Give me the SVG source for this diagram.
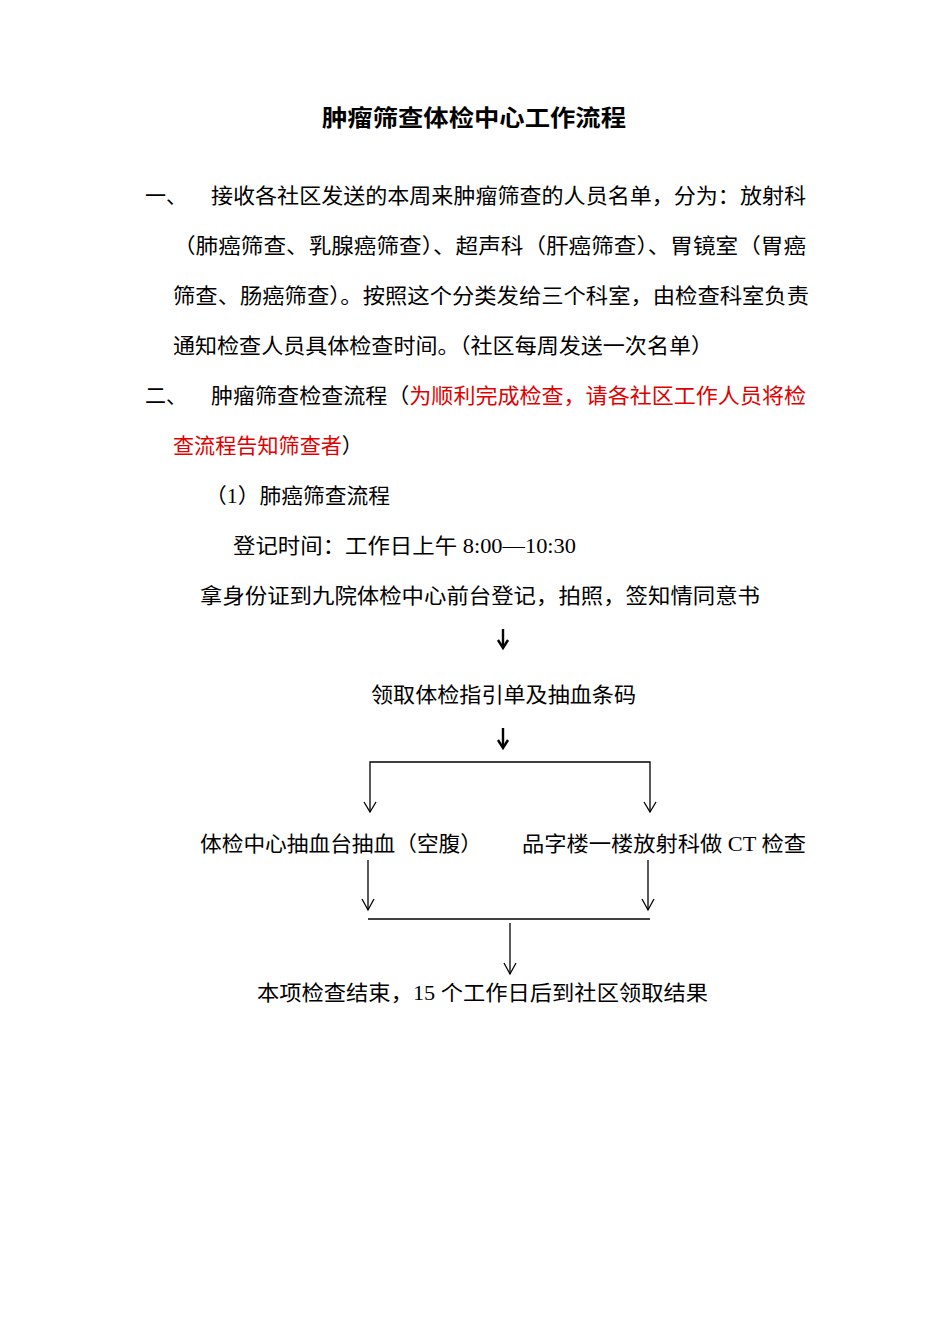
<svg xmlns="http://www.w3.org/2000/svg" width="950" height="1344" viewBox="0 0 950 1344">
<style>
text{font-family:"Liberation Serif","Noto Sans CJK SC",serif;font-size:21px;fill:#000}
.t{font-size:23px;font-weight:bold}
.r{fill:#e00000}
.c line,.c path{stroke:#000;stroke-width:1.3;fill:none}
.c .b{stroke-width:2.4}
</style>
<rect width="950" height="1344" fill="#fff"/>
<g id="title"><text class="t" x="322" y="126" textLength="304" lengthAdjust="spacingAndGlyphs">肿瘤筛查体检中心工作流程</text></g>
<g id="body">
<text x="145" y="203">一、</text>
<text x="211" y="203" textLength="595" lengthAdjust="spacingAndGlyphs">接收各社区发送的本周来肿瘤筛查的人员名单，分为：放射科</text>
<text x="173" y="253" textLength="633" lengthAdjust="spacingAndGlyphs">（肺癌筛查、乳腺癌筛查）、超声科（肝癌筛查）、胃镜室（胃癌</text>
<text x="173" y="303" textLength="636" lengthAdjust="spacingAndGlyphs">筛查、肠癌筛查）。按照这个分类发给三个科室，由检查科室负责</text>
<text x="173" y="353" textLength="540" lengthAdjust="spacingAndGlyphs">通知检查人员具体检查时间。（社区每周发送一次名单）</text>
<text x="145" y="403">二、</text>
<text x="211" y="403" textLength="595" lengthAdjust="spacingAndGlyphs">肿瘤筛查检查流程（<tspan class="r">为顺利完成检查，请各社区工作人员将检</tspan></text>
<text x="173" y="453" textLength="190" lengthAdjust="spacingAndGlyphs"><tspan class="r">查流程告知筛查者</tspan>）</text>
<text x="205" y="503" textLength="185" lengthAdjust="spacingAndGlyphs">（1）肺癌筛查流程</text>
<text x="233" y="553" textLength="343" lengthAdjust="spacingAndGlyphs">登记时间：工作日上午 8:00—10:30</text>
</g>
<g id="n1"><text x="200" y="603" textLength="560" lengthAdjust="spacingAndGlyphs">拿身份证到九院体检中心前台登记，拍照，签知情同意书</text></g>
<g id="n2"><text x="371" y="702" textLength="265" lengthAdjust="spacingAndGlyphs">领取体检指引单及抽血条码</text></g>
<g id="n3"><text x="200" y="851" textLength="282" lengthAdjust="spacingAndGlyphs">体检中心抽血台抽血（空腹）</text></g>
<g id="n4"><text x="522" y="851" textLength="284" lengthAdjust="spacingAndGlyphs">品字楼一楼放射科做 CT 检查</text></g>
<g id="n5"><text x="257" y="1000" textLength="451" lengthAdjust="spacingAndGlyphs">本项检查结束，15 个工作日后到社区领取结果</text></g>
<g class="c" id="connectors">
<line class="b" x1="503" y1="629" x2="503" y2="646"/><path class="b" d="M498,640 L503,648 L508,640"/>
<line class="b" x1="503" y1="728" x2="503" y2="746"/><path class="b" d="M498,740 L503,748 L508,740"/>
<path d="M370,812 V762 H650 V812"/>
<path d="M364,802 L370,812 L376,802 M644,802 L650,812 L656,802"/>
<line x1="368" y1="860" x2="368" y2="910"/><path d="M362,899 L368,910 L374,899"/>
<line x1="648" y1="860" x2="648" y2="910"/><path d="M642,899 L648,910 L654,899"/>
<line x1="368" y1="919" x2="650" y2="919"/>
<line x1="510" y1="923" x2="510" y2="974"/><path d="M504,963 L510,974 L516,963"/>
</g>
</svg>
